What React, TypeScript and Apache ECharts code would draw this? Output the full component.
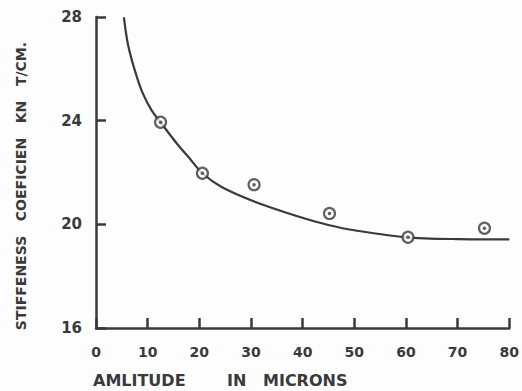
import React, { useEffect, useRef } from "react";
import * as echarts from "echarts";

const xTicks = [0, 10, 20, 30, 40, 50, 60, 70, 80];
const yTicks = [16, 20, 24, 28];
const measuredX = [12.5, 20.6, 30.6, 45.2, 60.4, 75.2];
const measuredY = [23.94, 21.97, 21.53, 20.42, 19.5, 19.85];
const curveX = [5.4, 6.15, 7.5, 9.04, 10.77, 12.5, 15.6, 18.1, 20.6, 24.4, 31.0, 37.3, 43.7, 48.8, 60, 70, 80];
const curveY = [27.99, 26.98, 25.95, 25.06, 24.4, 23.94, 23.13, 22.55, 21.97, 21.43, 20.85, 20.42, 20.04, 19.81, 19.5, 19.43, 19.42];
const xTitleWords = ["AMLITUDE", "IN", "MICRONS"];
const yTitle = "STIFFENESS   COEFICIEN   KN   T/CM.";

const INK = "#3a3a3a";
const FONT = "DejaVu Sans";

export default function App() {
  const ref = useRef<HTMLDivElement>(null);
  useEffect(() => {
    if (!ref.current) return;
    const chart = echarts.init(ref.current, undefined, { renderer: "svg" });
    const pts = measuredX.map((x, i) => [x, measuredY[i]]);
    const curve = curveX.map((x, i) => [x, curveY[i]]);
    const wordLeft = [93, 227, 263];
    chart.setOption({
      animation: false,
      backgroundColor: "#fdfdfd",
      grid: { left: 96, right: 10, top: 17, bottom: 63 },
      xAxis: {
        type: "value",
        min: xTicks[0],
        max: xTicks[xTicks.length - 1],
        interval: 10,
        axisLine: { show: true, lineStyle: { color: INK, width: 2.5 } },
        axisTick: { show: true, inside: true, length: 10, lineStyle: { color: INK, width: 2.5 } },
        axisLabel: { margin: 17, color: INK, fontSize: 14, fontWeight: "bold", fontFamily: FONT },
        splitLine: { show: false },
      },
      yAxis: {
        type: "value",
        min: yTicks[0],
        max: yTicks[yTicks.length - 1],
        interval: 4,
        axisLine: { show: true, lineStyle: { color: INK, width: 2.5 } },
        axisTick: { show: true, inside: true, length: 10, lineStyle: { color: INK, width: 2.5 } },
        axisLabel: { margin: 14, color: INK, fontSize: 15, fontWeight: "bold", fontFamily: FONT },
        splitLine: { show: false },
      },
      graphic: [
        ...xTitleWords.map((w, i) => ({
          type: "text",
          left: wordLeft[i],
          top: 372,
          style: { text: w, fill: INK, font: `bold 16px "${FONT}"` },
        })),
        {
          type: "text",
          x: 21,
          y: 186,
          rotation: Math.PI / 2,
          style: {
            text: yTitle,
            fill: INK,
            font: `bold 14px "${FONT}"`,
            align: "center",
            verticalAlign: "middle",
          },
        },
      ],
      series: [
        {
          type: "line",
          data: curve,
          smooth: 0.3,
          showSymbol: false,
          lineStyle: { color: INK, width: 2.2 },
          z: 2,
        },
        {
          type: "scatter",
          data: pts,
          symbol: "circle",
          symbolSize: 11,
          itemStyle: { color: "#fdfdfd", borderColor: INK, borderWidth: 2.2 },
          z: 3,
        },
        {
          type: "scatter",
          data: pts,
          symbol: "circle",
          symbolSize: 3.5,
          itemStyle: { color: INK },
          z: 4,
        },
      ],
    });
    return () => chart.dispose();
  }, []);
  return <div ref={ref} style={{ width: 522, height: 391, position: "absolute", left: 0, top: 0 }} />;
}
